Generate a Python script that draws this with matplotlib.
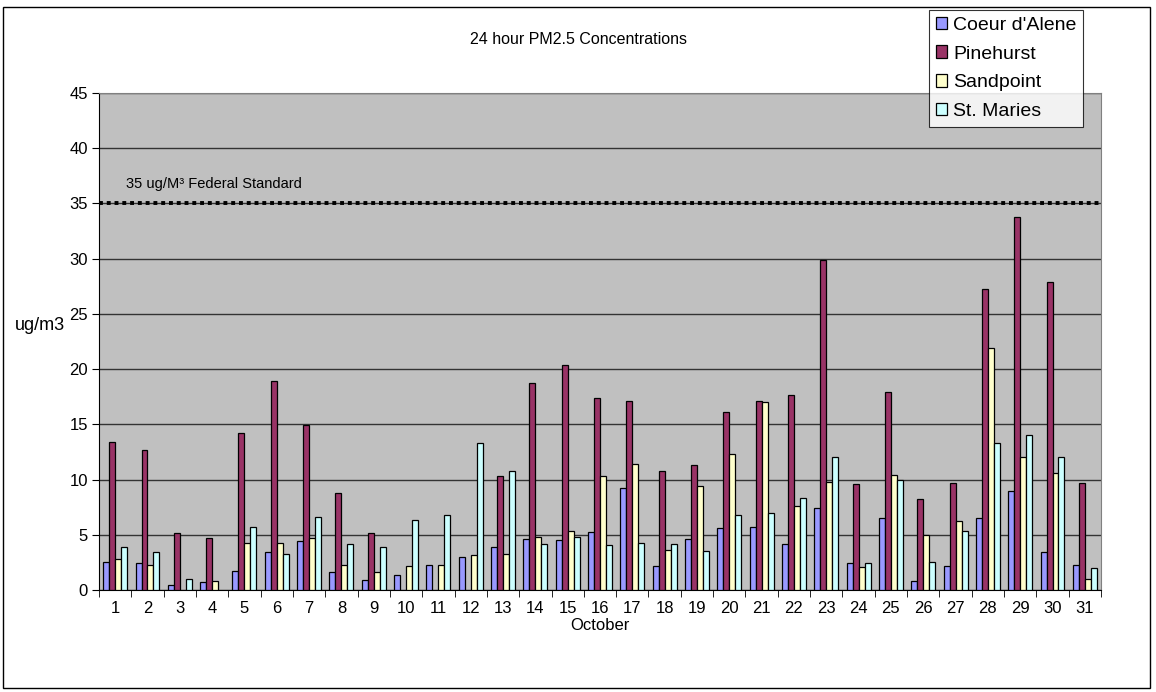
import numpy as np
import matplotlib
matplotlib.use("Agg")
import matplotlib.pyplot as plt
from matplotlib.patches import Rectangle

plt.rcParams["font.family"] = ["Liberation Sans", "DejaVu Sans"]

days = [str(d) for d in range(1, 32)]
nan = np.nan

coeur = [2.5, 2.4, 0.45, 0.7, 1.7, 3.4, 4.45, 1.6, 0.9, 1.35,
         2.3, 2.95, 3.9, 4.65, 4.55, 5.25, 9.2, 2.15, 4.65, 5.6,
         5.7, 4.2, 7.4, 2.4, 6.5, 0.8, 2.2, 6.5, 9.0, 3.4, 2.3]
pinehurst = [13.4, 12.7, 5.2, 4.7, 14.2, 18.9, 14.9, 8.75, 5.15, nan,
             nan, nan, 10.3, 18.75, 20.35, 17.4, 17.15, 10.8, 11.35, 16.15,
             17.15, 17.7, 29.9, 9.6, 17.95, 8.2, 9.65, 27.25, 33.8, 27.85, 9.65]
sandpoint = [2.8, 2.3, nan, 0.8, 4.3, 4.3, 4.7, 2.3, 1.6, 2.15,
             2.3, 3.2, 3.3, 4.8, 5.35, 10.35, 11.4, 3.65, 9.45, 12.3,
             17.05, 7.65, 9.8, 2.05, 10.45, 5.0, 6.25, 21.9, 12.05, 10.6, 1.0]
st_maries = [3.9, 3.4, 1.0, nan, 5.7, 3.3, 6.6, 4.2, 3.85, 6.35,
             6.8, 13.3, 10.8, 4.2, 4.8, 4.1, 4.3, 4.2, 3.55, 6.8,
             6.95, 8.35, 12.05, 2.4, 10.0, 2.5, 5.35, 13.3, 14.0, 12.05, 1.95]

series = [
    ("Coeur d'Alene", coeur, "#9999FF"),
    ("Pinehurst", pinehurst, "#993366"),
    ("Sandpoint", sandpoint, "#FFFFCC"),
    ("St. Maries", st_maries, "#CCFFFF"),
]
standard = 35

W, H = 1156, 692
fig = plt.figure(figsize=(W / 100, H / 100), dpi=100)
ax = fig.add_axes([99 / W, 1 - 590 / H, (1101 - 99) / W, (590 - 93) / H])
ax.set_facecolor("#C0C0C0")

x = np.arange(1, len(days) + 1)
bw = 0.185
for i, (name, vals, col) in enumerate(series):
    ax.bar(x + (i - 1.5) * bw, vals, width=bw, color=col, edgecolor="black",
           linewidth=0.9, label=name, zorder=3)

ax.set_xlim(0.5, len(days) + 0.5)
ax.set_ylim(0, 45)
ax.set_yticks(range(0, 46, 5))
ax.yaxis.grid(True, color="#333333", linewidth=1.0, zorder=1)
ax.set_axisbelow(True)

ax.axhline(standard, color="black", linestyle=(0, (1, 1)), linewidth=2.8, zorder=4)
ax.text(1.35, standard + 1.8, "35 ug/M\u00b3 Federal Standard", fontsize=10.5, va="center")

ax.set_xticks(x)
ax.set_xticklabels(days, fontsize=12)
ax.set_xticks(np.arange(0.5, len(days) + 1, 1), minor=True)
ax.tick_params(axis="x", which="major", length=0, pad=8)
ax.tick_params(axis="x", which="minor", length=5, direction="out", color="black")
ax.tick_params(axis="y", length=5, direction="out", labelsize=12, pad=3)

for s in ["top", "right"]:
    ax.spines[s].set_color("#808080")
ax.spines["left"].set_color("black")
ax.spines["bottom"].set_color("black")

ax.set_xlabel("October", fontsize=12, labelpad=1)
fig.text(40 / W, 1 - 326 / H, "ug/m3", fontsize=13, ha="center", va="center")
fig.text(578 / W, 1 - 40 / H, "24 hour PM2.5 Concentrations", fontsize=11.5,
         ha="center", va="center")

leg = fig.legend(loc="upper left", bbox_to_anchor=(929 / W, 1 - 10 / H),
                 fontsize=14, frameon=True, fancybox=False, edgecolor="black",
                 handlelength=0.6, handleheight=0.6, handletextpad=0.3,
                 labelspacing=0.6, borderpad=0.35, borderaxespad=0)
leg.get_frame().set_linewidth(0.8)

fig.patches.append(Rectangle((3 / W, 1 - 688 / H), (1150 - 3) / W, (688 - 7) / H,
                             transform=fig.transFigure, fill=False,
                             edgecolor="black", linewidth=1.0))

fig.savefig("out.png", dpi=100)
